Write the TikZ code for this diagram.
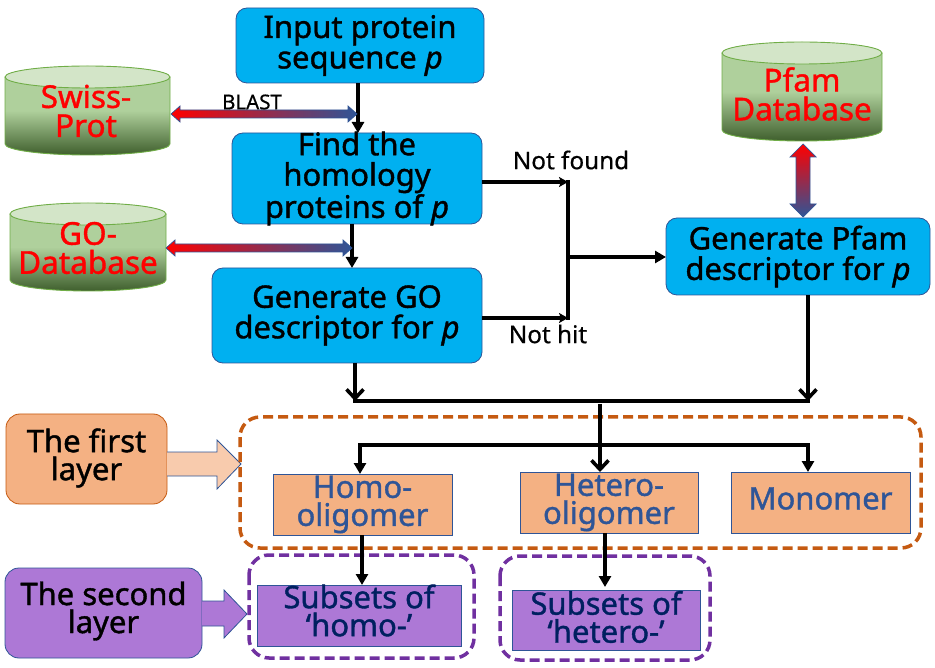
\documentclass[tikz,border=0pt]{standalone}
\usepackage{fontspec}
\setmainfont{Noto Sans}
\usetikzlibrary{arrows.meta,calc}
\definecolor{cblue}{HTML}{00B0F0}
\definecolor{bblue}{HTML}{2F5597}
\definecolor{corange}{HTML}{F4B183}
\definecolor{dorange}{HTML}{C55A11}
\definecolor{lorange}{HTML}{F8CBAD}
\definecolor{cpurple}{HTML}{AD78D6}
\definecolor{dpurple}{HTML}{7030A0}
\definecolor{navy}{HTML}{002060}
\definecolor{cylA}{HTML}{AFD09C}
\definecolor{cylB}{HTML}{3F5F2D}
\definecolor{cylT}{HTML}{D3E5C8}
\definecolor{cylL}{HTML}{70AD47}
\newfontfamily\boldish[FakeBold=1.2]{Noto Sans}
\newfontfamily\midish[FakeBold=.5]{Noto Sans}
\tikzset{x=1pt,y=-1pt,
 fl/.style={draw=bblue,line width=.8pt,fill=cblue,rounded corners=11pt,inner sep=0pt,outer sep=0pt,align=center,anchor=north west,font=\fontsize{31}{30.5}\boldish},
 lay/.style={draw=bblue,line width=.8pt,inner sep=0pt,outer sep=0pt,align=center,anchor=north west,font=\fontsize{31}{28}\boldish},
 conn/.style={line width=3.6pt,-{Triangle[length=11pt,width=12pt]}},
 barb/.style={line width=3.6pt,-{Straight Barb[length=9pt,width=17pt,line width=3.6pt]}},
 small conn/.style={line width=3.6pt,-{Stealth[length=9pt,width=10pt,inset=2pt]}},
 bus/.style={line width=3.6pt},
 dbtxt/.style={red,align=center,inner sep=0pt,font=\fontsize{31.5}{29}\boldish},
 dashbox/.style={line width=3.5pt,dash pattern=on 10pt off 5pt,rounded corners=20pt},
 note/.style={inner sep=0pt,font=\fontsize{24.3}{24}\midish},
}
\newcommand{\pp}{\textit{p}}
\newcommand{\upbox}[3]{\raisebox{#1}[\height][\depth]{\parbox{#2}{\centering #3}}}
% x1 y1 x2 y2 : cylinder
\newcommand{\cyl}[4]{%
 \pgfmathsetmacro{\mx}{(#1+#3)/2}\pgfmathsetmacro{\rx}{(#3-#1)/2}
 \path[top color=cylA,bottom color=cylB,middle color=cylA,shading angle=0]
  (#1,#2+11) -- (#1,#4-11) arc[start angle=180,end angle=360,x radius=\rx,y radius=-11] -- (#3,#2+11) arc[start angle=0,end angle=180,x radius=\rx,y radius=-11] -- cycle;
 \draw[cylL,line width=.9pt] (#1,#2+11) -- (#1,#4-11) arc[start angle=180,end angle=360,x radius=\rx,y radius=-11] -- (#3,#2+11);
 \draw[cylL,line width=.9pt,fill=cylT] (\mx,#2+11) ellipse[x radius=\rx,y radius=11];
}
\newcommand{\harr}[3]{%
 \draw[bblue,line width=.7pt,left color=red,right color=bblue]
  (#1,#3) -- (#1+9,#3-8) -- (#1+9,#3-4) -- (#2-9,#3-4) -- (#2-9,#3-8) -- (#2,#3) -- (#2-9,#3+8) -- (#2-9,#3+4) -- (#1+9,#3+4) -- (#1+9,#3+8) -- cycle;}
\newcommand{\varr}[3]{%
 \draw[bblue,line width=.7pt,top color=red,bottom color=bblue]
  (#1,#2) -- (#1+13,#2+13) -- (#1+7,#2+13) -- (#1+7,#3-13) -- (#1+13,#3-13) -- (#1,#3) -- (#1-13,#3-13) -- (#1-7,#3-13) -- (#1-7,#2+13) -- (#1-13,#2+13) -- cycle;}
\begin{document}
\begin{tikzpicture}
\useasboundingbox (0,0) rectangle (935,668);
% databases
\cyl{5}{66}{170}{155}
\cyl{10}{203}{166}{291}
\cyl{722}{42}{882}{141}
\node[dbtxt] (swiss) at (86,111) {Swiss-\\Prot};
\node[dbtxt] (godb) at (88,248) {GO-\\Database};
\node[dbtxt] (pfamdb) at (802,94) {Pfam\\Database};
% main boxes
\node[fl,minimum width=248pt,minimum height=75pt] (input) at (236,8) {Input protein\\sequence \pp};
\node[fl,inner ysep=-4pt,minimum width=250pt,minimum height=91pt] (find) at (232,133) {Find the\\homology\\proteins of \pp};
\node[fl,minimum width=270pt,minimum height=95pt] (gengo) at (212,268) {Generate GO\\descriptor for \pp};
\node[fl,minimum width=264pt,minimum height=77pt] (genpf) at (666,218) {Generate Pfam\\descriptor for \pp};
% connectors under the gradient arrows
\draw[conn] ([xshift=-2pt]input.south) -- ([xshift=1pt]find.north);
\draw[conn] ([xshift=-5pt]find.south) -- ([xshift=5pt]gengo.north);
% gradient arrows
\harr{171}{357}{114}
\harr{166}{352}{248}
\varr{803}{144}{217}
\node[inner sep=0pt,font=\fontsize{20.5}{20}\midish] (blast) at (252,102) {BLAST};
% layer tags
\node[lay,draw=dorange,fill=corange,rounded corners=14pt,minimum width=161pt,minimum height=90pt] (first) at (6,414) {\upbox{1pt}{150pt}{The first\\layer}};
\node[lay,fill=cpurple,rounded corners=14pt,minimum width=197pt,minimum height=90pt] (second) at (5,568) {\upbox{2pt}{180pt}{The second\\layer}};
\draw[bblue,line width=.8pt,fill=lorange] (167,452) -- (217,452) -- (217,440) -- (241,464) -- (217,489) -- (217,476) -- (167,476);
\draw[bblue,line width=.8pt,fill=cpurple] (202,601) -- (224,601) -- (224,590) -- (247,614) -- (224,638) -- (224,626) -- (202,626);
% dashed groups
\draw[dorange,dashbox] (240,417) rectangle (921,548);
\draw[dpurple,dashbox] (249,555) rectangle (474,658);
\draw[dpurple,dashbox] (500,556) rectangle (710,660);
% class boxes
\node[lay,fill=corange,text=bblue,minimum width=179pt,minimum height=61pt] (homo) at (273,474) {Homo-\\oligomer};
\node[lay,fill=corange,text=bblue,minimum width=178pt,minimum height=61pt] (hetero) at (520,472) {Hetero-\\oligomer};
\node[lay,fill=corange,text=bblue,minimum width=179pt,minimum height=61pt] (mono) at (731,472) {\raisebox{4pt}[\height][\depth]{Monomer}};
\node[lay,fill=cpurple,text=navy,minimum width=204pt,minimum height=61pt] (subhomo) at (257,585) {\upbox{5pt}{180pt}{Subsets of\\‘homo-’}};
\node[lay,fill=cpurple,text=navy,minimum width=188pt,minimum height=60pt] (subhet) at (512,590) {\upbox{3pt}{180pt}{Subsets of\\‘hetero-’}};
% junctions
\coordinate (jr) at (568,182);
\coordinate (jb) at (568,318);
\coordinate (jm) at (568,257);
\coordinate (bl) at (355,401);
\coordinate (br) at (808,401);
\coordinate (bm) at (600,404);
\coordinate (cl) at (360,445);
\coordinate (cr) at (808,445);
\coordinate (hetin) at (605,587);
% connectors
\draw[small conn] (find.east |- jr) -- (jr);
\draw[small conn] (gengo.east |- jb) -- (jb);
\draw[bus,line cap=rect] (jr) -- (jb);
\draw[conn] (jm) -- (genpf.west |- jm);
\draw[barb] (gengo.south -| bl) -- (bl);
\draw[barb] (genpf.south -| br) -- (br);
\draw[bus,line cap=rect] (bl) -- (br);
\draw[barb] (bm) -- (bm |- hetero.north);
\draw[conn] (cl) -- (cl |- homo.north);
\draw[conn] (cr) -- (cr |- mono.north);
\draw[bus,line cap=rect] (cl) -- (cr);
\draw[conn] (homo.south -| 362,0) -- (subhomo.north -| 362,0);
\draw[conn] (hetero.south -| hetin) -- (hetin);
\node[note] (nf) at (571,160) {Not found};
\node[note] (nh) at (548,334) {Not hit};
\end{tikzpicture}
\end{document}
